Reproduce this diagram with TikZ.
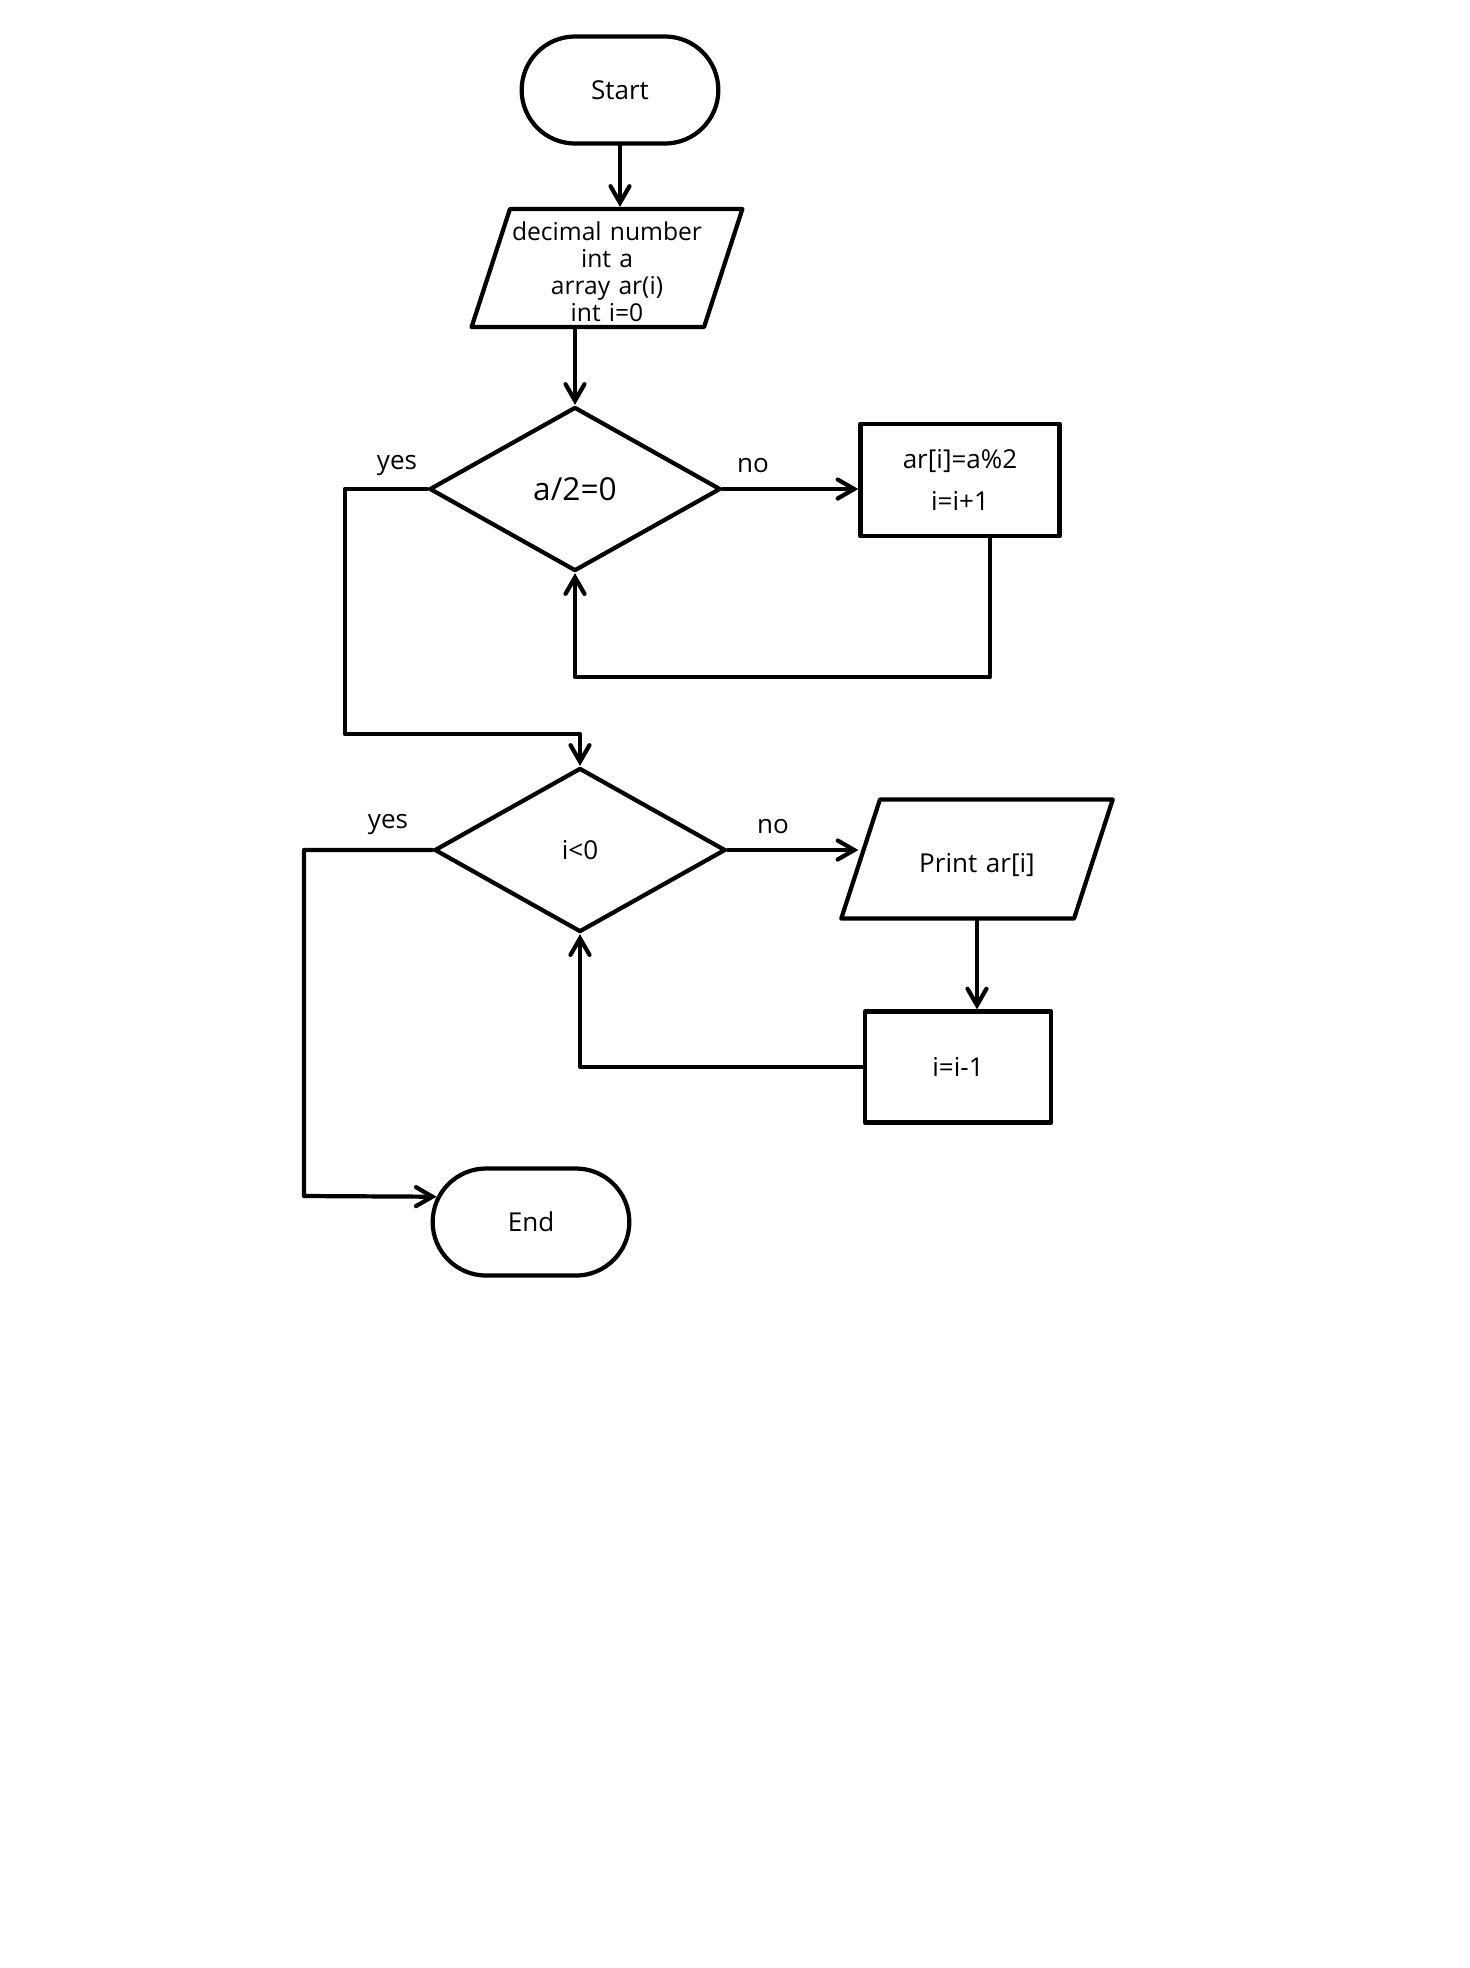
\documentclass[tikz,border=0pt]{standalone}
\usepackage{fontspec}
\setmainfont{Open Sans}
\usetikzlibrary{arrows}
\usetikzlibrary{shapes.geometric,shapes.misc}

\begin{document}
\begin{tikzpicture}[line cap=round,line join=round,>=angle 60,x=0.01cm,y=-0.01cm,
  every node/.style={font=\fontsize{7.4}{8.2}\selectfont},
  term/.style={draw,line width=1.2pt,rounded rectangle,minimum width=2.2cm,minimum height=1.07cm},
  io/.style={draw,line width=1.2pt,trapezium,trapezium left angle=72,trapezium right angle=108,
    text width=1.94cm,align=center,inner sep=0pt},
  dec/.style={draw,line width=1.2pt,diamond,minimum width=2.91cm,minimum height=1.64cm,inner sep=0pt},
  proc/.style={draw,line width=1.2pt,rectangle,align=center},
  flow/.style={line width=1.2pt}]
\useasboundingbox (0,0) rectangle (1470,1968);
\node [term] (start) at (620,90) {Start};
\node [io,font=\fontsize{7}{7.7}\selectfont,text height=0.31cm,text depth=0.87cm] (in) at (607,268)
  {decimal number\\int a\\array ar(i)\\int i=0};
\node [dec,font=\fontsize{9}{10}\selectfont] (d1) at (575,489) {a/2=0};
\node [proc,minimum width=1.99cm,minimum height=1.12cm] (p1) at (960,480) {ar[i]=a\%2\\[3.5pt]i=i+1};
\node [dec] (d2) at (580,850) {i<0};
\node [io,text height=0.725cm,text depth=0.465cm] (out) at (977,859) {Print ar[i]};
\node [proc,minimum width=1.86cm,minimum height=1.11cm] (p2) at (958,1067) {i=i-1};
\node [term] (end) at (531,1222) {End};
\node (yes1) at (397,466) {yes};
\node (no1) at (753,466) {no};
\node (yes2) at (388,825) {yes};
\node (no2) at (773,827) {no};
\coordinate (c1) at (345,734);
\coordinate (c2) at (990,677);
\coordinate (c3) at (304,1196);
\draw [flow,->] (start.south) -- (start.south |- in.north);
\draw [flow,->] (d1.north |- in.south) -- (d1.north);
\draw [flow,->] (d1.east) -- (d1.east -| p1.west);
\draw [flow,->] (p1.south -| c2) |- (d1.south |- c2) -- (d1.south);
\draw [flow,->] (d1.west) -- (d1.west -| c1) -- (c1) -| (d2.north);
\draw [flow,->] (d2.east) -- (d2.east -| out.left side);
\draw [flow,->] (out.south) -- (out.south |- p2.north);
\draw [flow,->] (p2.west) -| (d2.south);
\draw [flow,->] (d2.west) -- (d2.west -| c3) -- (c3) -- (end.165);
%\draw (in.top side) circle [radius=2pt];
\end{tikzpicture}
\end{document}
